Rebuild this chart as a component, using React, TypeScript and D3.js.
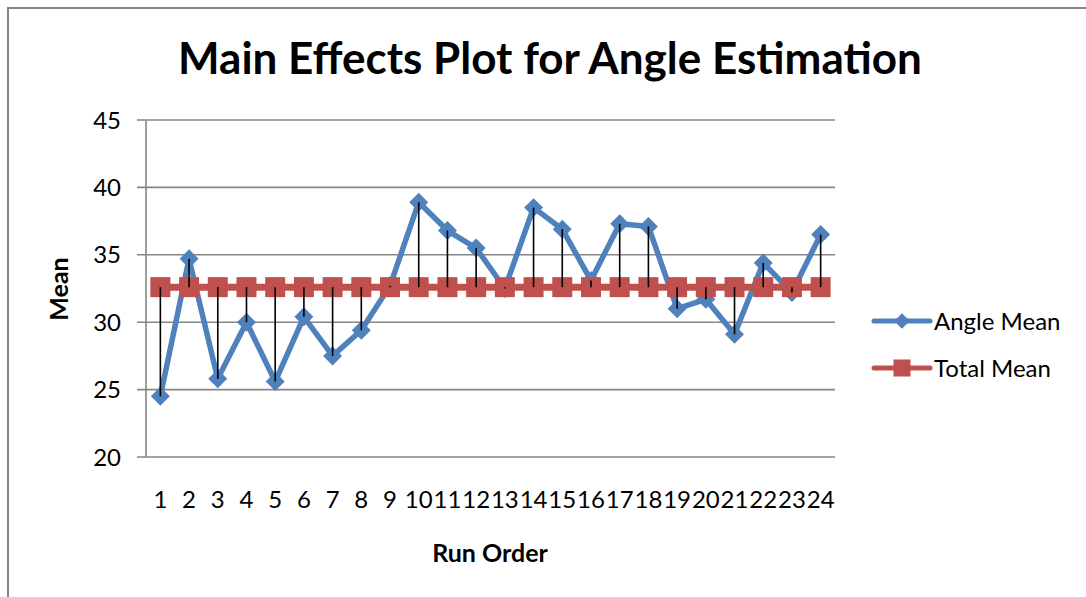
import * as d3 from 'd3'

// Run order 1..24
const categories = ['1', '2', '3', '4', '5', '6', '7', '8', '9', '10', '11', '12',
  '13', '14', '15', '16', '17', '18', '19', '20', '21', '22', '23', '24']
const angleMean = [24.5, 34.7, 25.8, 30.0, 25.6, 30.4, 27.5, 29.4, 32.7, 38.9, 36.8, 35.5,
  32.5, 38.5, 36.9, 33.1, 37.3, 37.1, 31.0, 31.7, 29.1, 34.4, 32.2, 36.5]
const totalMean = [32.6, 32.6, 32.6, 32.6, 32.6, 32.6, 32.6, 32.6, 32.6, 32.6, 32.6, 32.6,
  32.6, 32.6, 32.6, 32.6, 32.6, 32.6, 32.6, 32.6, 32.6, 32.6, 32.6, 32.6]
const yTicks = [20, 25, 30, 35, 40, 45]

const W = 1086, H = 597
const BLUE = '#4f81bd', RED = '#c0504d', GRID = '#868686'
const FONT = 'Lato, "Open Sans", sans-serif'

export default function App() {
  const x = d3.scaleBand().domain(categories).range([146, 835])
  const y = d3.scaleLinear().domain([20, 45]).range([457, 120])
  const cx = (i: number) => x(categories[i])! + x.bandwidth() / 2

  const line = d3.line<number>().x((_, i) => cx(i)).y(v => y(v))
  const diamond = d3.symbol(d3.symbolSquare, 180)()!
  const square = d3.symbol(d3.symbolSquare, 400)()!
  const legDiamond = d3.symbol(d3.symbolSquare, 120)()!
  const legSquare = d3.symbol(d3.symbolSquare, 290)()!

  return (
    <svg width={W} height={H} style={{ position: 'absolute', left: 0, top: 0, background: '#fff' }} fontFamily={FONT}>
      <rect x={8} y={8} width={W} height={H} fill="#fff" stroke={GRID} strokeWidth={2} />

      <text x={550} y={74} textAnchor="middle" fontSize={44} fontWeight={700} fill="#000">
        Main Effects Plot for Angle Estimation
      </text>

      {/* grid + y axis */}
      {yTicks.map(t => (
        <g key={t}>
          <line x1={137} x2={835} y1={y(t)} y2={y(t)} stroke={GRID} strokeWidth={1.6} />
          <text x={121} y={y(t)} dy="0.36em" textAnchor="end" fontSize={24} fill="#000">{t}</text>
        </g>
      ))}
      <line x1={146} x2={146} y1={y(45)} y2={y(20)} stroke={GRID} strokeWidth={1.6} />

      {categories.map((c, i) => (
        <text key={c} x={cx(i)} y={508} textAnchor="middle" fontSize={24} fill="#000">{c}</text>
      ))}

      <text x={490} y={562} textAnchor="middle" fontSize={25} fontWeight={700}>Run Order</text>
      <text transform="translate(68,289) rotate(-90)" textAnchor="middle" fontSize={25} fontWeight={700}>Mean</text>

      {/* Angle Mean series */}
      <path d={line(angleMean)!} fill="none" stroke={BLUE} strokeWidth={5.5} strokeLinejoin="round" />
      {angleMean.map((v, i) => (
        <path key={i} d={diamond} transform={`translate(${cx(i)},${y(v)}) rotate(45)`} fill={BLUE} />
      ))}

      {/* Total Mean series */}
      <path d={line(totalMean)!} fill="none" stroke={RED} strokeWidth={7} />
      {totalMean.map((v, i) => (
        <path key={i} d={square} transform={`translate(${cx(i)},${y(v)})`} fill={RED} />
      ))}

      {/* drop lines between the two series */}
      {angleMean.map((v, i) => (
        <line key={i} x1={cx(i)} x2={cx(i)} y1={y(totalMean[i])} y2={y(v)} stroke="#000" strokeWidth={1.6} />
      ))}

      {/* legend */}
      <g>
        <line x1={874} x2={930} y1={321} y2={321} stroke={BLUE} strokeWidth={5} strokeLinecap="round" />
        <path d={legDiamond} transform="translate(902,321) rotate(45)" fill={BLUE} />
        <text x={934} y={321} dy="0.36em" fontSize={24} fill="#000">Angle Mean</text>
        <line x1={874} x2={930} y1={368} y2={368} stroke={RED} strokeWidth={5} strokeLinecap="round" />
        <path d={legSquare} transform="translate(902,368)" fill={RED} />
        <text x={934} y={368} dy="0.36em" fontSize={24} fill="#000">Total Mean</text>
      </g>
    </svg>
  )
}
